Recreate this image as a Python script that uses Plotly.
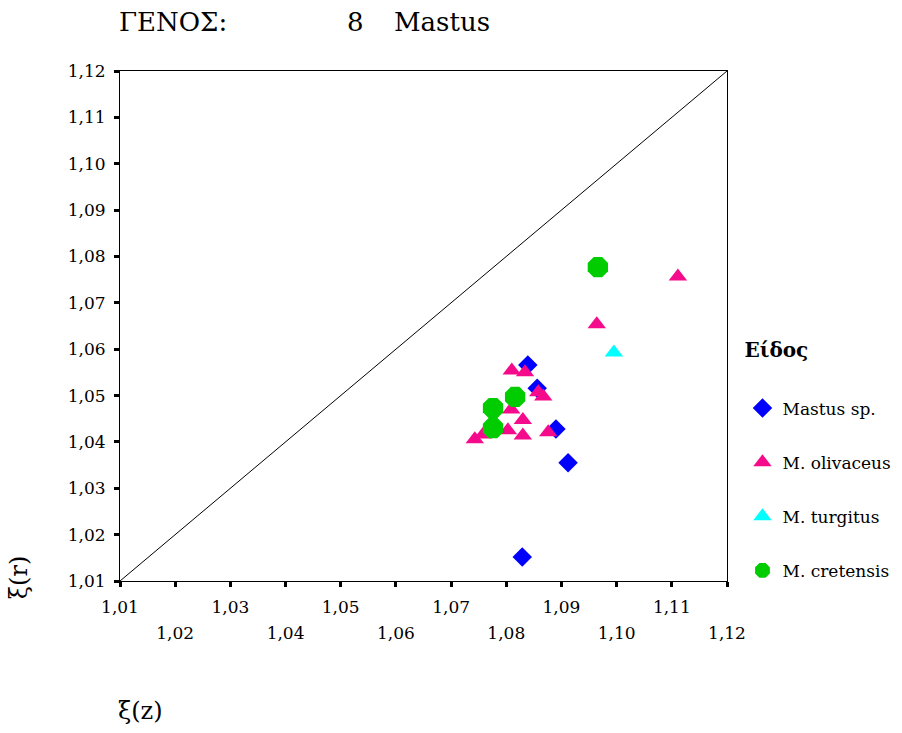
import plotly.graph_objects as go

# ---- data ----
mastus_x = [1.0839, 1.0856, 1.0890, 1.0912, 1.0829]
mastus_y = [1.0566, 1.0516, 1.0428, 1.0355, 1.0152]

olivaceus_x = [1.0810, 1.0834, 1.0858, 1.0867, 1.0809, 1.0830, 1.0803, 1.0830,
               1.0743, 1.0758, 1.0876, 1.0964, 1.1111]
olivaceus_y = [1.0554, 1.0550, 1.0507, 1.0498, 1.0470, 1.0447, 1.0425, 1.0414,
               1.0406, 1.0416, 1.0421, 1.0654, 1.0757]

turgitus_x = [1.0995]
turgitus_y = [1.0593]

cretensis_x = [1.0966, 1.0816, 1.0776, 1.0776]
cretensis_y = [1.0777, 1.0497, 1.0473, 1.0430]

diag = [1.01, 1.12]

tick_vals = [1.01, 1.02, 1.03, 1.04, 1.05, 1.06, 1.07, 1.08, 1.09, 1.10, 1.11, 1.12]
tick_text = ["1,01", "1,02", "1,03", "1,04", "1,05", "1,06", "1,07", "1,08",
             "1,09", "1,10", "1,11", "1,12"]

FONT = "DejaVu Serif"

fig = go.Figure()

fig.add_trace(go.Scatter(x=diag, y=diag, mode="lines", xaxis="x2",
                         line=dict(color="black", width=1), showlegend=False,
                         hoverinfo="skip"))

fig.add_trace(go.Scatter(x=mastus_x, y=mastus_y, mode="markers", name="Mastus sp.",
                         legendgroup="a",
                         marker=dict(symbol="diamond", size=15, color="#0000FF",
                                     line=dict(width=0))))
fig.add_trace(go.Scatter(x=olivaceus_x, y=olivaceus_y, mode="markers", name="M. olivaceus",
                         legendgroup="b",
                         marker=dict(symbol="triangle-up", size=16, color="#F50A8C",
                                     line=dict(width=0))))
fig.add_trace(go.Scatter(x=turgitus_x, y=turgitus_y, mode="markers", name="M. turgitus",
                         legendgroup="c",
                         marker=dict(symbol="triangle-up", size=16, color="#00FFFF",
                                     line=dict(width=0))))
fig.add_trace(go.Scatter(x=cretensis_x, y=cretensis_y, mode="markers", name="M. cretensis",
                         legendgroup="d",
                         marker=dict(symbol="octagon", size=22, color="#00CC00",
                                     line=dict(width=0))))

odd_text = [t if i % 2 == 0 else "" for i, t in enumerate(tick_text)]
even_vals = [v for i, v in enumerate(tick_vals) if i % 2 == 1]
even_text = [t for i, t in enumerate(tick_text) if i % 2 == 1]

fig.update_layout(
    width=902, height=733,
    margin=dict(l=120, r=175, t=71, b=152, autoexpand=False),
    paper_bgcolor="white", plot_bgcolor="white",
    font=dict(family=FONT, size=17, color="black"),
    xaxis=dict(range=[1.01, 1.12], tickmode="array", tickvals=tick_vals, ticktext=odd_text,
               ticks="outside", ticklen=5, tickwidth=3, tickcolor="black",
               showline=True, linecolor="black", linewidth=1, mirror=True,
               showgrid=False, zeroline=False, ticklabelstandoff=6,
               tickfont=dict(family=FONT, size=17)),
    xaxis2=dict(range=[1.01, 1.12], overlaying="x", anchor="y", side="bottom",
                tickmode="array", tickvals=even_vals, ticktext=even_text,
                ticks="", showline=False, showgrid=False, zeroline=False,
                ticklabelstandoff=40, tickfont=dict(family=FONT, size=17)),
    yaxis=dict(range=[1.01, 1.12], tickmode="array", tickvals=tick_vals, ticktext=tick_text,
               ticks="outside", ticklen=5, tickwidth=3, tickcolor="black",
               showline=True, linecolor="black", linewidth=1, mirror=True,
               showgrid=False, zeroline=False, ticklabelstandoff=5,
               tickfont=dict(family=FONT, size=17)),
    legend=dict(x=1.0255, y=0.506, xanchor="left", yanchor="top",
                title=dict(text="<span style='font-size:20px'><b>Είδος</b></span><br> ",
                           font=dict(family=FONT, size=26)),
                font=dict(family=FONT, size=17), traceorder="grouped",
                tracegroupgap=29, bgcolor="rgba(0,0,0,0)", itemsizing="trace"),
    showlegend=True,
)

annos = [
    dict(text="ΓΕΝΟΣ:", x=-0.005, y=1.096, xanchor="left"),
    dict(text="8", x=0.371, y=1.096, xanchor="left"),
    dict(text="Mastus", x=0.448, y=1.096, xanchor="left"),
]
for a in annos:
    fig.add_annotation(xref="paper", yref="paper", yanchor="middle", showarrow=False,
                       font=dict(family=FONT, size=26), **a)

fig.add_annotation(text="ξ(z)", xref="paper", yref="paper", x=0.033, y=-0.255,
                   xanchor="center", yanchor="middle", showarrow=False,
                   font=dict(family=FONT, size=24))
fig.add_annotation(text="ξ(r)", xref="paper", yref="paper", x=-0.166, y=0.006,
                   xanchor="center", yanchor="middle", showarrow=False, textangle=-90,
                   font=dict(family=FONT, size=24))

fig.write_html("out.html")
